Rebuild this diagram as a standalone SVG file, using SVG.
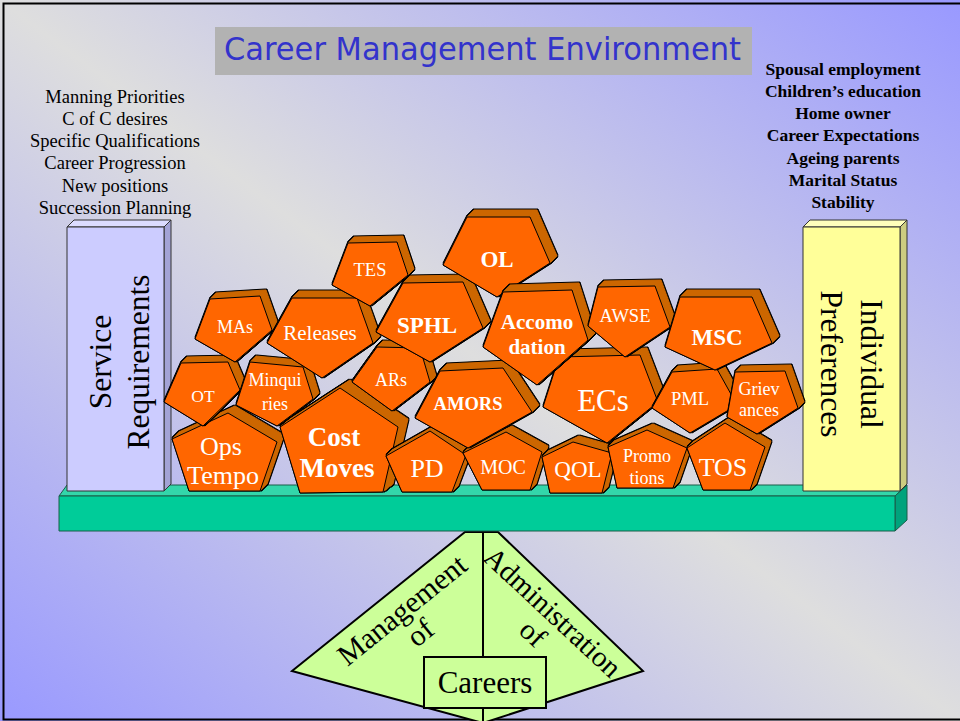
<svg xmlns="http://www.w3.org/2000/svg" width="960" height="721" viewBox="0 0 960 721">
<defs>
<linearGradient id="bg" x1="0" y1="1" x2="1" y2="0">
<stop offset="0" stop-color="#9999ff"/>
<stop offset="0.5" stop-color="#dedede"/>
<stop offset="1" stop-color="#9999ff"/>
</linearGradient>
<filter id="e6" x="-30%" y="-30%" width="160%" height="160%" color-interpolation-filters="sRGB">
<feOffset in="SourceAlpha" dx="1" dy="-1" result="o1"/>
<feOffset in="SourceAlpha" dx="2" dy="-2" result="o2"/>
<feOffset in="SourceAlpha" dx="3" dy="-3" result="o3"/>
<feOffset in="SourceAlpha" dx="4" dy="-4" result="o4"/>
<feOffset in="SourceAlpha" dx="5" dy="-5" result="o5"/>
<feOffset in="SourceAlpha" dx="6" dy="-6" result="o6"/>
<feMerge result="m"><feMergeNode in="o1"/><feMergeNode in="o2"/><feMergeNode in="o3"/><feMergeNode in="o4"/><feMergeNode in="o5"/><feMergeNode in="o6"/></feMerge>
<feMorphology in="m" operator="dilate" radius="1" result="d"/>
<feFlood flood-color="#000000"/><feComposite in2="d" operator="in" result="blk"/>
<feFlood flood-color="#cc6600"/><feComposite in2="m" operator="in" result="side"/>
<feMerge><feMergeNode in="blk"/><feMergeNode in="side"/><feMergeNode in="SourceGraphic"/></feMerge>
</filter>
<filter id="e7" x="-30%" y="-30%" width="160%" height="160%" color-interpolation-filters="sRGB">
<feOffset in="SourceAlpha" dx="1" dy="-1" result="o1"/>
<feOffset in="SourceAlpha" dx="2" dy="-2" result="o2"/>
<feOffset in="SourceAlpha" dx="3" dy="-3" result="o3"/>
<feOffset in="SourceAlpha" dx="4" dy="-4" result="o4"/>
<feOffset in="SourceAlpha" dx="5" dy="-5" result="o5"/>
<feOffset in="SourceAlpha" dx="6" dy="-6" result="o6"/>
<feOffset in="SourceAlpha" dx="7" dy="-7" result="o7"/>
<feMerge result="m"><feMergeNode in="o1"/><feMergeNode in="o2"/><feMergeNode in="o3"/><feMergeNode in="o4"/><feMergeNode in="o5"/><feMergeNode in="o6"/><feMergeNode in="o7"/></feMerge>
<feMorphology in="m" operator="dilate" radius="1" result="d"/>
<feFlood flood-color="#000000"/><feComposite in2="d" operator="in" result="blk"/>
<feFlood flood-color="#cc6600"/><feComposite in2="m" operator="in" result="side"/>
<feMerge><feMergeNode in="blk"/><feMergeNode in="side"/><feMergeNode in="SourceGraphic"/></feMerge>
</filter>
<filter id="e10" x="-30%" y="-30%" width="160%" height="160%" color-interpolation-filters="sRGB">
<feOffset in="SourceAlpha" dx="1.25" dy="-1" result="o1"/>
<feOffset in="SourceAlpha" dx="2.5" dy="-2" result="o2"/>
<feOffset in="SourceAlpha" dx="3.75" dy="-3" result="o3"/>
<feOffset in="SourceAlpha" dx="5" dy="-4" result="o4"/>
<feOffset in="SourceAlpha" dx="6.25" dy="-5" result="o5"/>
<feOffset in="SourceAlpha" dx="7.5" dy="-6" result="o6"/>
<feOffset in="SourceAlpha" dx="8.75" dy="-7" result="o7"/>
<feOffset in="SourceAlpha" dx="10" dy="-8" result="o8"/>
<feMerge result="m"><feMergeNode in="o1"/><feMergeNode in="o2"/><feMergeNode in="o3"/><feMergeNode in="o4"/><feMergeNode in="o5"/><feMergeNode in="o6"/><feMergeNode in="o7"/><feMergeNode in="o8"/></feMerge>
<feMorphology in="m" operator="dilate" radius="1" result="d"/>
<feFlood flood-color="#000000"/><feComposite in2="d" operator="in" result="blk"/>
<feFlood flood-color="#cc6600"/><feComposite in2="m" operator="in" result="side"/>
<feMerge><feMergeNode in="blk"/><feMergeNode in="side"/><feMergeNode in="SourceGraphic"/></feMerge>
</filter>
</defs>
<style>
.pg{fill:#ff6600;stroke:#000;stroke-width:1;stroke-linejoin:round}
.s6{filter:url(#e6)}
.s7{filter:url(#e7)}
.s10{filter:url(#e10)}
.lb{font-family:"Liberation Serif","Times New Roman",serif;fill:#ffffff;text-anchor:middle}
.b{font-weight:bold}
.side{font-family:"Liberation Serif","Times New Roman",serif;fill:#000;text-anchor:middle}
.edge{stroke:#333;stroke-width:1;stroke-linejoin:round}
.base{stroke:#1a5c48;stroke-width:1;stroke-linejoin:round}
.kite{fill:#ccff99;stroke:#000;stroke-width:2;stroke-linejoin:miter}
</style>

<rect x="0" y="0" width="960" height="721" fill="url(#bg)"/>
<rect x="3.5" y="3.5" width="1000" height="716" fill="none" stroke="#000" stroke-width="2"/>

<g id="title">
<rect x="215" y="27" width="537" height="48" fill="#b2b2b2"/>
<text x="224" y="60" font-family="DejaVu Sans, Verdana, sans-serif" font-size="32" fill="#3333cc" textLength="517" lengthAdjust="spacingAndGlyphs">Career Management Environment</text>
</g>

<g id="service-list" class="side" font-size="18.5">
<text x="115" y="102.5">Manning Priorities</text>
<text x="115" y="124.8">C of C desires</text>
<text x="115" y="147.1">Specific Qualifications</text>
<text x="115" y="169.4">Career Progression</text>
<text x="115" y="191.7">New positions</text>
<text x="115" y="214">Succession Planning</text>
</g>

<g id="individual-list" class="side" font-size="17.5" font-weight="bold">
<text x="843" y="74.5">Spousal employment</text>
<text x="843" y="96.8">Children’s education</text>
<text x="843" y="119.1">Home owner</text>
<text x="843" y="141.4">Career Expectations</text>
<text x="843" y="163.7">Ageing parents</text>
<text x="843" y="186">Marital Status</text>
<text x="843" y="208.3">Stability</text>
</g>

<g id="fulcrum">
<polygon class="kite" points="465,532 498,532 643,671 483,723 292,671"/>
<line x1="483" y1="532" x2="483" y2="721" stroke="#000" stroke-width="2"/>
<g transform="translate(402,610) rotate(-39)" class="side" font-size="30">
<text x="0" y="10">Management</text>
<text x="0" y="39">of</text>
</g>
<g transform="translate(553,612) rotate(43)" class="side" font-size="29">
<text x="0" y="10">Administration</text>
<text x="0" y="39">of</text>
</g>
<rect x="424" y="657" width="122" height="51" class="kite"/>
<text x="485" y="693" class="side" font-size="31">Careers</text>
</g>

<g id="beam">
<polygon class="base" points="59,496 67,485 907,485 895,496" fill="#33d6aa"/>
<polygon class="base" points="895,496 907,485 907,520 895,531" fill="#00a37c"/>
<rect class="base" x="59" y="496" width="836" height="35" fill="#00cc99"/>
</g>

<g id="service-requirements">
<polygon class="edge" points="67,227 74,220 171,220 164,227" fill="#dcdcff"/>
<polygon class="edge" points="164,227 171,220 171,484 164,491" fill="#a3a3d6"/>
<rect class="edge" x="67" y="227" width="97" height="264" fill="#ccccff"/>
<g transform="translate(119,362) rotate(-90)" class="side" font-size="31.5">
<text x="0" y="-8">Service</text>
<text x="0" y="30">Requirements</text>
</g>
</g>

<g id="individual-preferences">
<polygon class="edge" points="803,227 810,220 907,220 900,227" fill="#ffffbb"/>
<polygon class="edge" points="900,227 907,220 907,484 900,491" fill="#cccc80"/>
<rect class="edge" x="803" y="227" width="97" height="264" fill="#ffff99"/>
<g transform="translate(852,364) rotate(90)" class="side" font-size="31.5">
<text x="0" y="-9">Individual</text>
<text x="0" y="31">Preferences</text>
</g>
</g>

<g id="blocks">
<g id="n-ops-tempo"><polygon class="pg s7" points="228,413 277,442 260,491 189,491 172,439"/><text class="lb" font-size="26"><tspan x="221" y="455">Ops</tspan><tspan x="223" y="484">Tempo</tspan></text></g>
<g id="n-cost-moves"><polygon class="pg s10" points="340,388 398,427 383,492 300,493 280,427"/><text class="lb b" font-size="27"><tspan x="334" y="446">Cost</tspan><tspan x="337" y="477">Moves</tspan></text></g>
<g id="n-pd"><polygon class="pg s6" points="430,431 466,455 452,492 402,492 386,456"/><text class="lb" x="427" y="477" font-size="26">PD</text></g>
<g id="n-moc"><polygon class="pg s6" points="506,432 542,452 530,490 482,490 463,453"/><text class="lb" x="503" y="474" font-size="20">MOC</text></g>
<g id="n-qol"><polygon class="pg s6" points="573,442 612,453 602,493 550,493 542,457"/><text class="lb" x="578" y="477" font-size="23">QOL</text></g>
<g id="n-promotions"><polygon class="pg s6" points="647,430 687,448 673,488 617,488 608,447"/><text class="lb" font-size="18"><tspan x="647" y="462">Promo</tspan><tspan x="647" y="484">tions</tspan></text></g>
<g id="n-tos"><polygon class="pg s6" points="725,423 765,447 750,490 703,490 687,448"/><text class="lb" x="723" y="476" font-size="26">TOS</text></g>

<g id="n-ot"><polygon class="pg s6" points="181,363 228,362 240,390 203,426 164,402"/><text class="lb" x="203" y="402" font-size="17.5">OT</text></g>
<g id="n-minquiries"><polygon class="pg s6" points="250,362 303,367 313,399 277,426 236,405"/><text class="lb" font-size="18"><tspan x="275" y="386">Minqui</tspan><tspan x="275" y="410">ries</tspan></text></g>
<g id="n-ars"><polygon class="pg s6" points="377,347 420,348 430,382 392,411 352,382"/><text class="lb" x="391" y="386" font-size="18">ARs</text></g>
<g id="n-amors"><polygon class="pg s7" points="440,371 503,368 532,412 468,448 415,418"/><text class="lb b" x="468" y="410" font-size="18.5">AMORS</text></g>
<g id="n-ecs"><polygon class="pg s7" points="559,357 640,355 658,402 607,443 543,407"/><text class="lb" x="603" y="411" font-size="31">ECs</text></g>
<g id="n-pml"><polygon class="pg s6" points="672,372 717,369 737,405 690,433 652,408"/><text class="lb" x="690" y="405" font-size="18.5">PML</text></g>
<g id="n-grievances"><polygon class="pg s6" points="735,372 785,371 798,408 757,434 727,417"/><text class="lb" font-size="18"><tspan x="759" y="395">Griev</tspan><tspan x="759" y="416">ances</tspan></text></g>

<g id="n-mas"><polygon class="pg s6" points="210,299 260,296 272,330 235,362 195,339"/><text class="lb" x="235" y="333" font-size="18">MAs</text></g>
<g id="n-releases"><polygon class="pg s7" points="292,298 357,298 373,343 322,378 267,343"/><text class="lb" x="320" y="340" font-size="21">Releases</text></g>
<g id="n-tes"><polygon class="pg s6" points="348,243 397,242 408,275 370,306 332,285"/><text class="lb" x="370" y="276" font-size="18.5">TES</text></g>
<g id="n-sphl"><polygon class="pg s7" points="403,283 463,282 483,328 430,362 376,332"/><text class="lb b" x="427" y="333" font-size="23">SPHL</text></g>
<g id="n-ol"><polygon class="pg s7" points="467,217 530,217 550,263 497,297 443,265"/><text class="lb b" x="497" y="267" font-size="23">OL</text></g>
<g id="n-accomodation"><polygon class="pg s7" points="503,292 572,290 588,340 537,385 483,347"/><text class="lb b" font-size="21"><tspan x="537" y="329">Accomo</tspan><tspan x="537" y="354">dation</tspan></text></g>
<g id="n-awse"><polygon class="pg s6" points="598,287 655,286 670,327 625,357 588,326"/><text class="lb" x="625" y="322" font-size="18.5">AWSE</text></g>
<g id="n-msc"><polygon class="pg s7" points="680,297 752,297 772,343 715,370 665,347"/><text class="lb b" x="717" y="345" font-size="23">MSC</text></g>
</g>

<g id="connectors"/>
</svg>
